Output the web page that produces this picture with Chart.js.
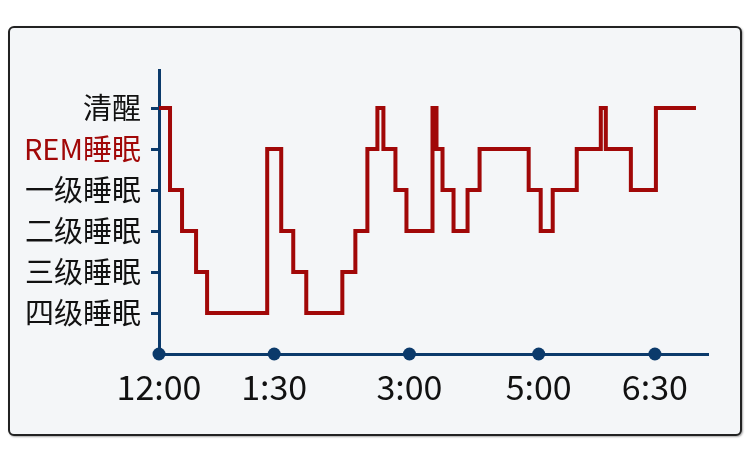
<!DOCTYPE html>
<html>
<head>
<meta charset="utf-8">
<script src="https://cdn.jsdelivr.net/npm/chart.js@4/dist/chart.umd.min.js"></script>
<style>
  html, body { margin: 0; padding: 0; background: #ffffff; }
  #wrap { position: relative; width: 750px; height: 464px; }
  #panel {
    position: absolute; left: 8px; top: 26px; width: 734px; height: 410px;
    box-sizing: border-box; border: 2.5px solid #222; border-radius: 6px;
    background: #f4f6f8; box-shadow: 1px 1px 2px rgba(0,0,0,0.35);
  }
  canvas { position: absolute; left: 0; top: 0; }
</style>
</head>
<body>
<div id="wrap">
  <div id="panel"></div>
  <canvas id="c" width="750" height="464"></canvas>
</div>
<script>
// Sleep stage levels: 0 = 四级睡眠 ... 5 = 清醒
const stageLabels = ["四级睡眠", "三级睡眠", "二级睡眠", "一级睡眠", "REM睡眠", "清醒"];
const stageLevels = [0, 1, 2, 3, 4, 5];

// Time positions along the (schematic) time axis, and the stage entered at each one
const stepTimes  = [0, 11, 23, 37, 48, 108, 122, 134, 147, 183, 196, 208, 218, 224, 236, 247, 273, 277, 283, 294, 308, 320, 369, 381, 393, 417, 441, 446, 471, 496, 536];
const stepStages = [5, 3, 2, 1, 0, 4, 2, 1, 0, 1, 2, 4, 5, 4, 3, 2, 5, 4, 3, 2, 3, 4, 3, 2, 3, 4, 5, 4, 3, 5, 5];

// Time-axis tick labels and their positions on the same axis
const timeTickLabels = ["12:00", "1:30", "3:00", "5:00", "6:30"];
const timeTickValues = [0, 115, 250, 379, 495];

const axisMax = 548;
const levelMin = -1;
const levelMax = 5.93;

const NAVY = "#0b3a6b";
const RED = "#a10808";
const FONT = "'Noto Sans CJK SC', 'Noto Sans', sans-serif";

const stepData = stepTimes.map((t, i) => ({ x: t, y: stepStages[i] }));
const dotData = timeTickValues.map(t => ({ x: t, y: levelMin }));

new Chart(document.getElementById("c"), {
  type: "line",
  data: {
    datasets: [
      {
        data: stepData,
        stepped: "before",
        borderColor: RED,
        borderWidth: 4,
        pointRadius: 0,
        fill: false,
        tension: 0,
        borderJoinStyle: "miter",
        borderCapStyle: "butt"
      },
      {
        data: dotData,
        showLine: false,
        pointRadius: 6.5,
        pointBackgroundColor: NAVY,
        pointBorderColor: NAVY,
        pointBorderWidth: 0,
        clip: false
      }
    ]
  },
  options: {
    responsive: false,
    animation: false,
    devicePixelRatio: 1,
    layout: { padding: { top: 70, right: 42, left: 0, bottom: 0 } },
    plugins: { legend: { display: false }, tooltip: { enabled: false } },
    scales: {
      x: {
        type: "linear",
        min: 0,
        max: axisMax,
        afterFit: s => { s.height = 110; },
        afterBuildTicks: s => { s.ticks = timeTickValues.map(v => ({ value: v })); },
        grid: { display: true, drawOnChartArea: false, drawTicks: false },
        border: { display: true, color: NAVY, width: 3 },
        ticks: {
          autoSkip: false,
          maxRotation: 0,
          padding: 13,
          color: "#111111",
          font: { family: FONT, size: 34 },
          callback: (v, i) => timeTickLabels[i]
        }
      },
      y: {
        type: "linear",
        min: levelMin,
        max: levelMax,
        afterFit: s => { s.width = 159; },
        afterBuildTicks: s => { s.ticks = stageLevels.map(v => ({ value: v })); },
        grid: { display: true, drawOnChartArea: false, drawTicks: true, tickLength: 8, tickWidth: 3, tickColor: NAVY, color: NAVY },
        border: { display: true, color: NAVY, width: 3 },
        ticks: {
          autoSkip: false,
          padding: 10,
          color: ctx => (ctx.tick && ctx.tick.value === 4 ? RED : "#111111"),
          font: { family: FONT, size: 29 },
          callback: v => stageLabels[stageLevels.indexOf(v)]
        }
      }
    }
  }
});
</script>
</body>
</html>
